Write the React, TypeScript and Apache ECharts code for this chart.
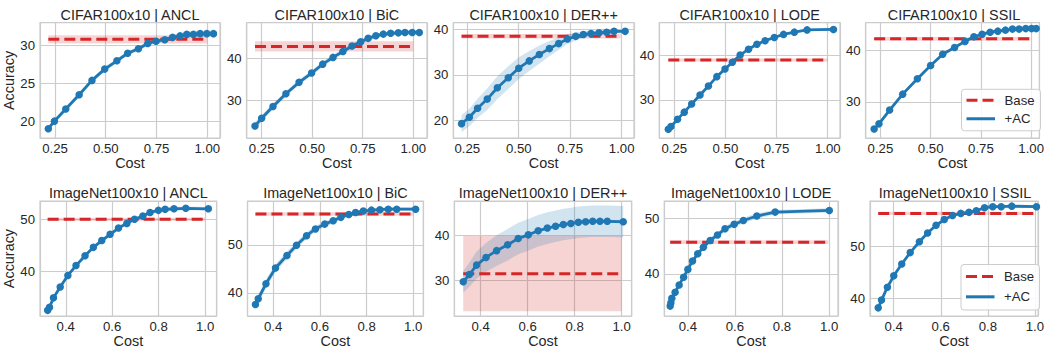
import React, { useEffect, useRef } from "react";
import * as echarts from "echarts";

const FONT = "'Liberation Sans', Arial, Helvetica, sans-serif";
const BLUE = "#1f77b4";
const RED = "#d62728";
const TXT = "#262626";
const GRIDC = "#cccccc";

// ---------- data ----------
const titles = [
  "CIFAR100x10 | ANCL", "CIFAR100x10 | BiC", "CIFAR100x10 | DER++", "CIFAR100x10 | LODE", "CIFAR100x10 | SSIL",
  "ImageNet100x10 | ANCL", "ImageNet100x10 | BiC", "ImageNet100x10 | DER++", "ImageNet100x10 | LODE", "ImageNet100x10 | SSIL",
];

const cifarAnclCost = [0.217, 0.247, 0.303, 0.369, 0.432, 0.495, 0.555, 0.608, 0.661, 0.707, 0.748, 0.791, 0.829, 0.866, 0.899, 0.932, 0.965, 0.998, 1.031];
const cifarAnclAcc = [19.0, 20.0, 21.6, 23.5, 25.4, 26.9, 28.0, 29.0, 29.6, 30.3, 30.6, 30.8, 31.1, 31.3, 31.5, 31.5, 31.6, 31.6, 31.6];
const cifarAnclErr = [0.3, 0.3, 0.3, 0.3, 0.3, 0.3, 0.3, 0.3, 0.3, 0.3, 0.3, 0.3, 0.35, 0.35, 0.4, 0.4, 0.4, 0.4, 0.4];

const cifarBicCost = [0.217, 0.25, 0.306, 0.37, 0.435, 0.497, 0.552, 0.603, 0.652, 0.697, 0.74, 0.777, 0.815, 0.852, 0.888, 0.926, 0.959, 0.995, 1.03];
const cifarBicAcc = [24.0, 25.8, 28.6, 31.6, 34.3, 36.5, 38.6, 40.2, 41.6, 42.9, 43.9, 44.7, 45.3, 45.7, 45.9, 46.0, 46.1, 46.1, 46.1];
const cifarBicErr = [0.9, 0.8, 0.7, 0.6, 0.6, 0.6, 0.6, 0.6, 0.6, 0.6, 0.6, 0.6, 0.5, 0.5, 0.5, 0.5, 0.5, 0.5, 0.5];

const cifarDerCost = [0.222, 0.26, 0.3, 0.347, 0.396, 0.449, 0.5, 0.551, 0.6, 0.649, 0.694, 0.736, 0.777, 0.814, 0.851, 0.89, 0.927, 0.963, 1.017];
const cifarDerAcc = [19.3, 20.7, 22.7, 24.7, 27.2, 29.4, 31.5, 33.1, 34.5, 35.8, 36.9, 37.9, 38.5, 38.9, 39.1, 39.3, 39.4, 39.6, 39.6];
const cifarDerErr = [1.9, 1.9, 2.1, 2.4, 2.5, 2.5, 2.4, 2.2, 2.0, 1.7, 1.4, 1.1, 0.9, 0.7, 0.6, 0.5, 0.5, 0.4, 0.4];

const cifarLodeCost = [0.221, 0.234, 0.266, 0.299, 0.335, 0.376, 0.417, 0.458, 0.498, 0.534, 0.572, 0.613, 0.654, 0.694, 0.739, 0.784, 0.837, 0.899, 1.028];
const cifarLodeAcc = [23.5, 24.1, 25.7, 27.3, 29.1, 31.1, 33.1, 35.2, 36.9, 38.4, 40.0, 41.3, 42.4, 43.2, 43.9, 44.6, 45.1, 45.6, 45.7];
const cifarLodeErr = [0.25, 0.25, 0.25, 0.25, 0.25, 0.25, 0.25, 0.25, 0.25, 0.25, 0.25, 0.25, 0.25, 0.25, 0.25, 0.25, 0.25, 0.25, 0.25];

const cifarSsilCost = [0.219, 0.243, 0.296, 0.361, 0.434, 0.5, 0.56, 0.619, 0.671, 0.715, 0.756, 0.796, 0.834, 0.872, 0.907, 0.94, 0.973, 1.002, 1.025];
const cifarSsilAcc = [24.7, 25.7, 28.4, 31.5, 34.5, 37.1, 39.3, 40.6, 41.8, 42.7, 43.2, 43.6, 43.8, 44.0, 44.2, 44.2, 44.3, 44.3, 44.3];
const cifarSsilErr = [0.3, 0.3, 0.3, 0.3, 0.3, 0.3, 0.3, 0.3, 0.3, 0.3, 0.3, 0.3, 0.3, 0.3, 0.3, 0.3, 0.3, 0.3, 0.3];

const inAnclCost = [0.322, 0.33, 0.347, 0.376, 0.409, 0.444, 0.483, 0.519, 0.555, 0.591, 0.627, 0.663, 0.696, 0.732, 0.763, 0.799, 0.828, 0.866, 0.917, 1.014];
const inAnclAcc = [32.5, 33.1, 34.9, 37.0, 39.2, 41.1, 43.0, 44.6, 45.9, 47.1, 48.3, 49.2, 50.0, 50.6, 51.3, 51.7, 51.9, 52.0, 52.1, 52.0];
const inAnclErr = [0.35, 0.35, 0.35, 0.35, 0.35, 0.35, 0.35, 0.35, 0.35, 0.35, 0.35, 0.35, 0.35, 0.35, 0.35, 0.35, 0.35, 0.35, 0.35, 0.35];

const inBicCost = [0.324, 0.336, 0.369, 0.41, 0.459, 0.5, 0.543, 0.581, 0.621, 0.657, 0.69, 0.724, 0.753, 0.786, 0.821, 0.857, 0.893, 0.929, 1.01];
const inBicAcc = [37.6, 38.8, 41.9, 45.2, 47.8, 49.9, 51.9, 53.3, 54.3, 55.0, 55.7, 56.3, 56.7, 57.0, 57.2, 57.3, 57.4, 57.4, 57.4];
const inBicErr = [0.8, 0.9, 0.9, 0.8, 0.8, 0.7, 0.7, 0.6, 0.6, 0.5, 0.5, 0.4, 0.4, 0.4, 0.4, 0.4, 0.4, 0.4, 0.4];

const inDerCost = [0.326, 0.352, 0.383, 0.423, 0.468, 0.515, 0.56, 0.603, 0.645, 0.684, 0.719, 0.752, 0.784, 0.816, 0.847, 0.877, 0.908, 0.939, 1.007];
const inDerAcc = [29.7, 31.3, 33.4, 35.1, 36.6, 37.9, 39.3, 40.1, 41.0, 41.6, 42.0, 42.4, 42.6, 42.9, 43.0, 43.1, 43.1, 43.1, 43.0];
const inDerErr = [2.4, 2.7, 3.0, 3.2, 3.4, 3.5, 3.5, 3.5, 3.5, 3.5, 3.5, 3.5, 3.5, 3.5, 3.5, 3.5, 3.5, 3.5, 3.5];

const inLodeCost = [0.325, 0.328, 0.332, 0.346, 0.363, 0.382, 0.4, 0.42, 0.442, 0.466, 0.495, 0.526, 0.558, 0.597, 0.636, 0.693, 0.771, 1.001];
const inLodeAcc = [34.2, 34.8, 35.6, 36.7, 38.0, 39.4, 40.8, 42.3, 43.6, 44.8, 46.0, 47.0, 48.1, 48.9, 49.6, 50.4, 51.1, 51.4];
const inLodeErr = [0.3, 0.3, 0.3, 0.3, 0.3, 0.3, 0.3, 0.35, 0.4, 0.4, 0.5, 0.5, 0.5, 0.5, 0.5, 0.5, 0.4, 0.4];

const inSsilCost = [0.334, 0.348, 0.373, 0.4, 0.434, 0.47, 0.509, 0.544, 0.58, 0.615, 0.65, 0.685, 0.72, 0.751, 0.786, 0.821, 0.857, 0.902, 1.007];
const inSsilAcc = [38.1, 39.6, 42.1, 44.3, 46.6, 48.8, 50.9, 52.6, 54.1, 55.2, 56.0, 56.4, 56.6, 56.9, 57.5, 57.7, 57.7, 57.8, 57.7];
const inSsilErr = [0.3, 0.3, 0.3, 0.3, 0.3, 0.3, 0.3, 0.3, 0.3, 0.3, 0.3, 0.3, 0.3, 0.3, 0.3, 0.3, 0.3, 0.3, 0.3];

const costs = [cifarAnclCost, cifarBicCost, cifarDerCost, cifarLodeCost, cifarSsilCost, inAnclCost, inBicCost, inDerCost, inLodeCost, inSsilCost];
const accs = [cifarAnclAcc, cifarBicAcc, cifarDerAcc, cifarLodeAcc, cifarSsilAcc, inAnclAcc, inBicAcc, inDerAcc, inLodeAcc, inSsilAcc];
const errs = [cifarAnclErr, cifarBicErr, cifarDerErr, cifarLodeErr, cifarSsilErr, inAnclErr, inBicErr, inDerErr, inLodeErr, inSsilErr];

const baseAcc = [30.85, 42.8, 38.5, 38.9, 42.3, 50.0, 56.4, 31.5, 45.7, 56.4];
const baseErr = [0.55, 1.2, 0.5, 0.35, 0.35, 0.3, 0.35, 8.35, 0.35, 0.3];
const baseEndCost = [1.0, 1.0, 0.995, 1.0, 0.995, 1.0, 1.0, 1.0, 0.997, 0.997];

const xTickStep = [0.25, 0.25, 0.25, 0.25, 0.25, 0.2, 0.2, 0.2, 0.2, 0.2];
const yTickStep = [5, 10, 10, 10, 10, 10, 10, 10, 10, 10];
const xRanges = [
  [0.176, 1.063], [0.176, 1.068], [0.182, 1.06], [0.177, 1.06], [0.177, 1.041],
  [0.289, 1.05], [0.29, 1.043], [0.288, 1.043], [0.3, 1.038], [0.299, 1.014],
];
const yRanges = [
  [17.74, 33.05], [21.1, 48.4], [16.1, 41.5], [21.5, 47.2], [22.9, 45.45],
  [31.4, 53.5], [35.2, 59.1], [22.1, 47.6], [32.4, 53.1], [36.5, 58.8],
];

// ---------- layout ----------
const gridBoxes = [
  [40, 22.7, 180, 115.5], [246.7, 22.7, 180.3, 115.5], [453.3, 22.7, 180.7, 115.5], [659.3, 22.7, 180.7, 115.5], [865.7, 22.7, 176.6, 115.5],
  [40, 201, 176.7, 115.7], [247.5, 201, 175.8, 115.7], [454.3, 201, 177.4, 115.7], [664.3, 201, 173.7, 115.7], [870, 201, 170, 115.7],
];
const legendBoxes = [
  [961.5, 89.3, 79, 41.5],
  [961, 264.5, 78.5, 45.5],
];

// band as a custom series: data rows [x, lower, upper], drawn as one polygon through api.coord
function bandSeries(i: number, rows: number[][], fill: string) {
  return {
    type: "custom", xAxisIndex: i, yAxisIndex: i, silent: true, clip: true,
    data: rows, encode: { x: 0, y: [1, 2] },
    renderItem: (params: any, api: any) => {
      if (params.dataIndex !== 0) return null;
      const upper = rows.map((r) => api.coord([r[0], r[2]]));
      const lower = rows.map((r) => api.coord([r[0], r[1]])).reverse();
      return { type: "polygon", shape: { points: upper.concat(lower) }, style: { fill } };
    },
  };
}

function buildOption() {
  const grid: any[] = [];
  const xAxis: any[] = [];
  const yAxis: any[] = [];
  const series: any[] = [];
  const graphic: any[] = [];

  titles.forEach((title, i) => {
    const [l, t, w, h] = gridBoxes[i];
    grid.push({ left: l, top: t, width: w, height: h, show: true, borderColor: GRIDC, borderWidth: 1.2, backgroundColor: "#ffffff" });
    const dec = xTickStep[i] === 0.25 ? 2 : 1;
    xAxis.push({
      type: "value", gridIndex: i, min: xRanges[i][0], max: xRanges[i][1],
      minInterval: xTickStep[i], maxInterval: xTickStep[i],
      axisLine: { show: false }, axisTick: { show: false },
      axisLabel: { showMinLabel: false, showMaxLabel: false, margin: 4, fontSize: 13.2, color: TXT, fontFamily: FONT, formatter: (v: number) => v.toFixed(dec) },
      splitLine: { show: true, lineStyle: { color: GRIDC, width: 1.2 } },
      name: "Cost", nameLocation: "middle", nameGap: 17,
      nameTextStyle: { fontSize: 14.4, color: TXT, fontFamily: FONT },
    });
    yAxis.push({
      type: "value", gridIndex: i, min: yRanges[i][0], max: yRanges[i][1],
      minInterval: yTickStep[i], maxInterval: yTickStep[i],
      axisLine: { show: false }, axisTick: { show: false },
      axisLabel: { showMinLabel: false, showMaxLabel: false, margin: 5, fontSize: 13.2, color: TXT, fontFamily: FONT },
      splitLine: { show: true, lineStyle: { color: GRIDC, width: 1.2 } },
      name: i % 5 === 0 ? "Accuracy" : "", nameLocation: "middle", nameGap: 17,
      nameTextStyle: { fontSize: 14.4, color: TXT, fontFamily: FONT },
    });

    const c = costs[i], a = accs[i], e = errs[i];
    const x0 = c[0], x1 = baseEndCost[i];
    const common = { xAxisIndex: i, yAxisIndex: i, symbol: "none", silent: true, smooth: false };
    // base band
    series.push(bandSeries(i, [[x0, baseAcc[i] - baseErr[i], baseAcc[i] + baseErr[i]], [x1, baseAcc[i] - baseErr[i], baseAcc[i] + baseErr[i]]], "rgba(214,39,40,0.2)"));
    // AC band
    series.push(bandSeries(i, c.map((x, k) => [x, a[k] - e[k], a[k] + e[k]]), "rgba(31,119,180,0.2)"));
    // base line
    series.push({ ...common, type: "line", name: "Base", data: [[x0, baseAcc[i]], [x1, baseAcc[i]]], lineStyle: { color: RED, width: 3, type: [11, 5] } });
    // AC line
    series.push({
      ...common, type: "line", name: "+AC", symbol: "circle", symbolSize: 7.5,
      data: c.map((x, k) => [x, a[k]]),
      lineStyle: { color: BLUE, width: 2.8 }, itemStyle: { color: BLUE },
    });

    graphic.push({
      type: "text", x: l + w / 2, y: t - 8.2,
      style: { text: title, align: "center", verticalAlign: "middle", fontSize: 14.4, fontFamily: FONT, fill: TXT },
    });
  });

  legendBoxes.forEach(([lx, ly, lw, lh]) => {
    const y1 = ly + lh * 0.265;
    const y2 = ly + lh * 0.71;
    graphic.push({ type: "rect", shape: { x: lx, y: ly, width: lw, height: lh, r: 3 }, style: { fill: "rgba(255,255,255,0.85)", stroke: GRIDC, lineWidth: 1 }, z: 100 });
    graphic.push({ type: "line", shape: { x1: lx + 5, y1, x2: lx + 33.5, y2: y1 }, style: { stroke: RED, lineWidth: 3, lineDash: [11, 5] }, z: 101 });
    graphic.push({ type: "line", shape: { x1: lx + 5, y1: y2, x2: lx + 33.5, y2 }, style: { stroke: BLUE, lineWidth: 3 }, z: 101 });
    graphic.push({ type: "text", x: lx + 43, y: y1, style: { text: "Base", verticalAlign: "middle", fontSize: 13.2, fontFamily: FONT, fill: TXT }, z: 101 });
    graphic.push({ type: "text", x: lx + 43, y: y2, style: { text: "+AC", verticalAlign: "middle", fontSize: 13.2, fontFamily: FONT, fill: TXT }, z: 101 });
  });

  return { animation: false, backgroundColor: "#ffffff", grid, xAxis, yAxis, series, graphic };
}

export default function App() {
  const ref = useRef<HTMLDivElement>(null);
  useEffect(() => {
    if (!ref.current) return;
    const chart = echarts.init(ref.current, undefined, { renderer: "svg" });
    chart.setOption(buildOption());
    return () => chart.dispose();
  }, []);
  return <div ref={ref} style={{ position: "fixed", left: 0, top: 0, width: 1047, height: 349, background: "#fff" }} />;
}
